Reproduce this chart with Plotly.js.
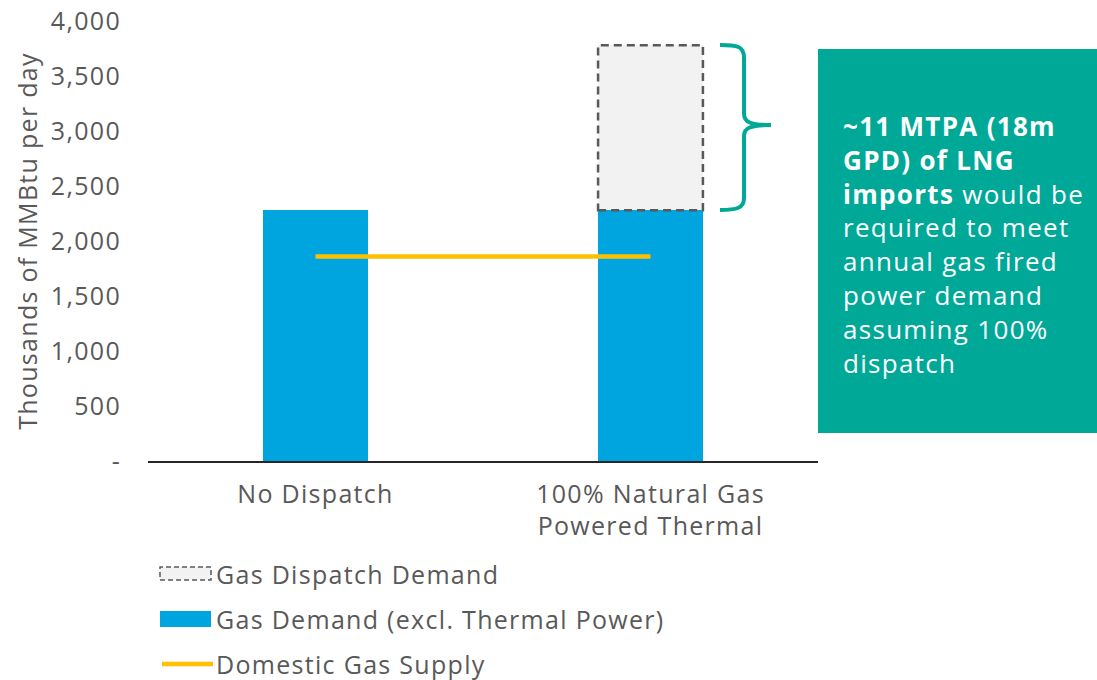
<!DOCTYPE html>
<html>
<head>
<meta charset="utf-8">
<script src="https://cdn.plot.ly/plotly-3.0.1.min.js"></script>
<style>
html,body{margin:0;padding:0;background:#fff;}
#chart{width:1097px;height:680px;}
svg text{letter-spacing:1.3px;}
</style>
</head>
<body>
<div id="chart"></div>
<script>
// ---- data ----
const categories = ['No Dispatch', '100% Natural Gas<br>Powered Thermal'];
const gasDemand = [2280, 2280];          // Gas Demand (excl. Thermal Power)
const dispatchDemand = [0, 1500];        // Gas Dispatch Demand (stacked on top)
const domesticSupply = [1860, 1860];     // Domestic Gas Supply
const yTickVals = [0, 500, 1000, 1500, 2000, 2500, 3000, 3500, 4000];
const yTickText = ['-', '500', '1,000', '1,500', '2,000', '2,500', '3,000', '3,500', '4,000'];
const legendNames = ['Gas Dispatch Demand', 'Gas Demand (excl. Thermal Power)', 'Domestic Gas Supply'];
const calloutText = '<b>~11 MTPA (18m<br>GPD) of LNG<br>imports</b> would be<br>required to meet<br>annual gas fired<br>power demand<br>assuming 100%<br>dispatch';

// ---- style ----
const W = 1097, H = 680;
const M = {l: 148, r: 279, t: 21, b: 219};
const PW = W - M.l - M.r, PH = H - M.t - M.b;
const FONT = 'Open Sans, Noto Sans, sans-serif';
const FS = 25;
const GREY = '#595959';
const BLUE = '#00A4DE';
const TEAL = '#00A898';
const YELLOW = '#FFC000';
const BAR_W = 0.313;
const px = x => (x - M.l) / PW;           // pixel x -> paper
const py = y => (H - M.b - y) / PH;       // pixel y -> paper

const traces = [
  {type: 'bar', name: legendNames[1], x: categories, y: gasDemand, width: BAR_W,
   marker: {color: BLUE, line: {width: 0}}, hoverinfo: 'skip'},
  {type: 'bar', name: legendNames[0], x: categories, y: dispatchDemand, width: BAR_W,
   marker: {color: '#F2F2F2', line: {width: 0}}, hoverinfo: 'skip'},
  {type: 'scatter', mode: 'lines', name: legendNames[2], x: categories, y: domesticSupply,
   line: {color: YELLOW, width: 4.5}, hoverinfo: 'skip'}
];

const shapes = [];
// dashed outline of dispatch bars (data coordinates)
dispatchDemand.forEach((d, i) => {
  if (d > 0) {
    shapes.push({type: 'rect', xref: 'x', yref: 'y', x0: i - BAR_W / 2, x1: i + BAR_W / 2,
      y0: gasDemand[i], y1: gasDemand[i] + d, layer: 'above',
      line: {color: GREY, width: 2.5, dash: '8px,5px'}, fillcolor: 'rgba(0,0,0,0)'});
  }
});
// callout box
shapes.push({type: 'rect', xref: 'paper', yref: 'paper', x0: px(818), x1: px(1097), y0: py(433), y1: py(49),
  line: {width: 0}, fillcolor: TEAL, layer: 'below'});
// curly brace
const P = (x, y) => px(x).toFixed(4) + ',' + py(y).toFixed(4);
const brace = 'M' + P(720, 45) + ' C' + P(737, 45) + ' ' + P(744, 46) + ' ' + P(744, 58) +
  ' L' + P(744, 114) + ' C' + P(744, 122) + ' ' + P(750, 125) + ' ' + P(771, 125) +
  ' M' + P(771, 125) + ' C' + P(750, 125) + ' ' + P(744, 128) + ' ' + P(744, 136) +
  ' L' + P(744, 198) + ' C' + P(744, 208) + ' ' + P(737, 210) + ' ' + P(720, 210);
shapes.push({type: 'path', xref: 'paper', yref: 'paper', path: brace, line: {color: TEAL, width: 4}});

// custom legend symbols
shapes.push({type: 'rect', xref: 'paper', yref: 'paper', x0: px(160), x1: px(211), y0: py(580), y1: py(567),
  line: {color: GREY, width: 1.5, dash: '5px,3px'}, fillcolor: '#F2F2F2'});
shapes.push({type: 'rect', xref: 'paper', yref: 'paper', x0: px(160), x1: px(211), y0: py(627), y1: py(611),
  line: {width: 0}, fillcolor: BLUE});
shapes.push({type: 'line', xref: 'paper', yref: 'paper', x0: px(162), x1: px(213), y0: py(664), y1: py(664),
  line: {color: YELLOW, width: 4.5}});

const annotations = [
  {xref: 'paper', yref: 'paper', x: px(841), y: py(244), xanchor: 'left', yanchor: 'middle', align: 'left',
   text: calloutText, showarrow: false, font: {family: FONT, size: 26, color: '#FFFFFF'}}
];
const legendY = [574, 619, 664];
legendNames.forEach((n, i) => annotations.push({xref: 'paper', yref: 'paper', x: px(214), y: py(legendY[i]),
  xanchor: 'left', yanchor: 'middle', text: n, showarrow: false, font: {family: FONT, size: FS, color: GREY}}));

const layout = {
  width: W, height: H,
  margin: M,
  paper_bgcolor: '#fff', plot_bgcolor: '#fff',
  barmode: 'stack',
  showlegend: false,
  font: {family: FONT, size: FS, color: GREY},
  xaxis: {type: 'category', range: [-0.5, 1.5], showline: true, linecolor: '#262626', linewidth: 1.5,
    ticks: '', showgrid: false, zeroline: false, tickfont: {family: FONT, size: FS, color: GREY},
    ticklabelstandoff: 10, fixedrange: true},
  yaxis: {range: [0, 4000], tickvals: yTickVals, ticktext: yTickText, showgrid: false, zeroline: false,
    showline: false, ticks: '', tickfont: {family: FONT, size: FS, color: GREY}, ticklabelstandoff: 26,
    title: {text: 'Thousands of MMBtu per day', font: {family: FONT, size: FS, color: GREY}, standoff: 6},
    fixedrange: true},
  shapes: shapes,
  annotations: annotations
};

Plotly.newPlot('chart', traces, layout, {displayModeBar: false, staticPlot: true});
</script>
</body>
</html>
